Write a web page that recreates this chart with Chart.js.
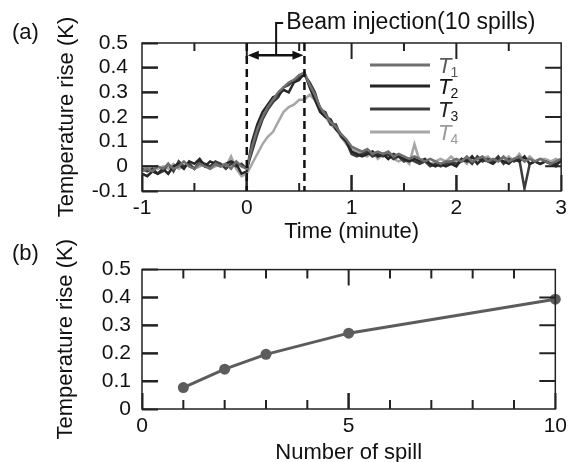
<!DOCTYPE html>
<html>
<head>
<meta charset="utf-8">
<script src="https://cdn.jsdelivr.net/npm/chart.js@4.4.1/dist/chart.umd.min.js"></script>
<style>
  html, body { margin: 0; padding: 0; background: #fff; overflow: hidden; }
  #wrapA { position: absolute; left: 0; top: 0; width: 588px; height: 245px; }
  #wrapB { position: absolute; left: 0; top: 230px; width: 588px; height: 240px; }
</style>
</head>
<body>
<div id="wrapA"><canvas id="chartA"></canvas></div>
<div id="wrapB"><canvas id="chartB"></canvas></div>
<script>
const FONT = "'Liberation Sans', Arial, sans-serif";
const INK = '#111';
const AXIS = '#222';

// (a) temperature rise of the four sensors vs time
const timeMin = [
  -1.00, -0.95, -0.90, -0.85, -0.80, -0.75, -0.70, -0.65, -0.60, -0.55,
  -0.50, -0.45, -0.40, -0.35, -0.30, -0.25, -0.20, -0.15, -0.10, -0.05,
  0.00, 0.05, 0.10, 0.15, 0.20, 0.25, 0.30, 0.35, 0.40, 0.45,
  0.50, 0.55, 0.60, 0.65, 0.70, 0.75, 0.80, 0.85, 0.90, 0.95,
  1.00, 1.05, 1.10, 1.15, 1.20, 1.25, 1.30, 1.35, 1.40, 1.45,
  1.50, 1.55, 1.60, 1.65, 1.70, 1.75, 1.80, 1.85, 1.90, 1.95,
  2.00, 2.05, 2.10, 2.15, 2.20, 2.25, 2.30, 2.35, 2.40, 2.45,
  2.50, 2.55, 2.60, 2.65, 2.70, 2.75, 2.80, 2.85, 2.90, 2.95,
  3.00
];
const riseT1 = [
  -0.02, -0.01, -0.02, 0.00, -0.01, 0.01, -0.01, 0.00, 0.02, 0.00,
  -0.01, 0.01, 0.00, -0.01, 0.01, 0.00, 0.01, -0.01, 0.02, 0.00,
  -0.01, 0.08, 0.15, 0.20, 0.24, 0.27, 0.30, 0.32, 0.34, 0.35,
  0.37, 0.38, 0.33, 0.29, 0.24, 0.21, 0.18, 0.16, 0.13, 0.11,
  0.08, 0.07, 0.06, 0.07, 0.05, 0.06, 0.05, 0.06, 0.04, 0.05,
  0.04, 0.03, 0.04, 0.03, 0.02, 0.03, 0.02, 0.01, 0.02, 0.02,
  0.03, 0.02, 0.04, 0.02, 0.03, 0.04, 0.02, 0.03, 0.02, 0.04,
  0.02, 0.03, 0.04, 0.02, 0.03, 0.02, 0.03, 0.02, 0.01, 0.02,
  0.03
];
const riseT2 = [
  -0.03, -0.04, -0.02, -0.03, -0.01, -0.03, 0.00, 0.01, -0.01, 0.02,
  0.01, 0.03, 0.00, 0.02, 0.01, 0.00, 0.01, 0.02, 0.01, -0.03,
  -0.02, 0.10, 0.17, 0.22, 0.25, 0.28, 0.29, 0.31, 0.30, 0.34,
  0.35, 0.38, 0.32, 0.27, 0.22, 0.20, 0.19, 0.15, 0.13, 0.10,
  0.06, 0.05, 0.04, 0.05, 0.06, 0.04, 0.05, 0.03, 0.05, 0.04,
  0.03, 0.02, 0.03, 0.02, 0.03, 0.01, 0.00, 0.01, 0.00, 0.01,
  0.00, 0.03, 0.02, 0.04, 0.01, 0.03, 0.02, 0.01, 0.03, 0.02,
  0.01, 0.03, 0.02, 0.04, 0.01, 0.02, 0.01, 0.02, 0.01, 0.01,
  0.02
];
const riseT3 = [
  -0.01, -0.02, -0.01, -0.03, -0.02, 0.01, -0.02, 0.02, 0.00, 0.01,
  -0.01, 0.02, 0.01, 0.00, 0.02, 0.01, -0.01, 0.01, 0.00, 0.01,
  -0.01, 0.06, 0.13, 0.19, 0.23, 0.26, 0.28, 0.32, 0.33, 0.35,
  0.36, 0.37, 0.34, 0.30, 0.23, 0.22, 0.17, 0.17, 0.12, 0.10,
  0.05, 0.04, 0.05, 0.06, 0.04, 0.05, 0.04, 0.05, 0.03, 0.04,
  0.02, 0.03, 0.02, 0.01, 0.02, 0.00, 0.01, 0.00, 0.01, 0.02,
  0.01, 0.02, 0.03, 0.01, 0.04, 0.02, 0.03, 0.02, 0.04, 0.01,
  0.03, 0.02, 0.03, -0.09, 0.01, 0.02, 0.01, 0.02, 0.01, 0.00,
  0.03
];
const riseT4 = [
  0.00, -0.01, 0.00, -0.01, 0.00, -0.01, 0.01, -0.01, 0.00, 0.01,
  -0.01, 0.00, 0.01, -0.01, 0.00, 0.01, 0.00, 0.04, -0.01, -0.04,
  -0.03, 0.01, 0.05, 0.09, 0.12, 0.14, 0.18, 0.22, 0.24, 0.25,
  0.27, 0.27, 0.29, 0.27, 0.23, 0.20, 0.17, 0.15, 0.12, 0.09,
  0.07, 0.06, 0.05, 0.04, 0.06, 0.03, 0.05, 0.04, 0.03, 0.02,
  0.03, 0.01, 0.09, 0.02, 0.03, 0.01, 0.02, 0.03, 0.02, 0.04,
  0.02, 0.03, 0.01, 0.04, 0.02, 0.03, 0.04, 0.02, 0.03, 0.02,
  0.04, 0.02, 0.05, 0.02, 0.04, 0.02, 0.03, 0.03, 0.02, 0.03,
  0.02
];
const sensorNames = ['1', '2', '3', '4'];
const sensorColors = ['#6f6f6f', '#262626', '#3c3c3c', '#a6a6a6'];
const sensorText = ['#5a5a5a', '#111111', '#222222', '#9a9a9a'];

// tick mark positions (long ticks carry labels, short ones do not)
const majorTimeTicks = [0, 1, 2];
const minorTimeTicks = [-0.5, 0.5, 1.5, 2.5];
const riseTicksA = [0, 0.1, 0.2, 0.3, 0.4];
const majorSpillTicks = [5];
const minorSpillTicks = [1, 2, 3, 4, 6, 7, 8, 9];
const riseTicksB = [0.1, 0.2, 0.3, 0.4];

// injection window (minutes) and where the arrow sits
const injectStart = 0;
const injectEnd = 0.55;
const arrowLevel = 0.45;
const bracketAt = 0.28;
const annotation = 'Beam injection(10 spills)';

// (b) temperature rise vs number of spills
const spills = [1, 2, 3, 5, 10];
const riseBySpill = [0.077, 0.143, 0.196, 0.272, 0.394];

// frame on all four sides plus inward tick marks on top and right
function drawFrame(chart, major, minor, yTicks, minorLen) {
  const ctx = chart.ctx;
  const a = chart.chartArea;
  const xs = chart.scales.x;
  const ys = chart.scales.y;
  ctx.save();
  ctx.setLineDash([]);
  ctx.globalAlpha = 1;
  ctx.strokeStyle = AXIS;
  ctx.lineWidth = 1.5;
  ctx.strokeRect(a.left, a.top, a.right - a.left, a.bottom - a.top);
  ctx.lineWidth = 2;
  ctx.beginPath();
  major.forEach(v => {
    const px = xs.getPixelForValue(v);
    ctx.moveTo(px, a.bottom); ctx.lineTo(px, a.bottom - 16);
    ctx.moveTo(px, a.top); ctx.lineTo(px, a.top + 16);
  });
  minor.forEach(v => {
    const px = xs.getPixelForValue(v);
    ctx.moveTo(px, a.bottom); ctx.lineTo(px, a.bottom - minorLen);
    ctx.moveTo(px, a.top); ctx.lineTo(px, a.top + minorLen);
  });
  yTicks.forEach(v => {
    const py = ys.getPixelForValue(v);
    ctx.moveTo(a.left, py); ctx.lineTo(a.left + 16, py);
    ctx.moveTo(a.right, py); ctx.lineTo(a.right - 16, py);
  });
  ctx.stroke();
  ctx.restore();
}

function panelLabel(ctx, text, x, y) {
  ctx.save();
  ctx.fillStyle = INK;
  ctx.font = '22px ' + FONT;
  ctx.textBaseline = 'middle';
  ctx.fillText(text, x, y);
  ctx.restore();
}

const yLabel = v => Math.abs(v) < 1e-9 ? '0' : v.toFixed(1);

// Chart.js draws the bottom/left ticks itself: a negative length points them inward
const inwardGrid = {
  display: true,
  drawOnChartArea: false,
  drawTicks: true,
  tickLength: -16,
  tickWidth: 2,
  tickColor: ctx => (ctx.tick && ctx.tick.label === '') ? 'rgba(0,0,0,0)' : AXIS
};

const decorA = {
  id: 'decorA',
  afterDraw(chart) {
    drawFrame(chart, majorTimeTicks, minorTimeTicks, riseTicksA, 8);
    const { ctx, chartArea: a, scales: { x, y } } = chart;
    ctx.save();
    // dashed markers for the injection window
    ctx.strokeStyle = '#111';
    ctx.lineWidth = 2.5;
    ctx.setLineDash([8, 5]);
    [injectStart, injectEnd].forEach(v => {
      const px = x.getPixelForValue(v);
      ctx.beginPath();
      ctx.moveTo(px, a.top);
      ctx.lineTo(px, a.bottom);
      ctx.stroke();
    });
    ctx.setLineDash([]);

    // double-headed arrow across the window
    const x0 = x.getPixelForValue(injectStart);
    const x1 = x.getPixelForValue(injectEnd);
    const ay = y.getPixelForValue(arrowLevel);
    ctx.lineWidth = 2.5;
    ctx.beginPath();
    ctx.moveTo(x0 + 6, ay); ctx.lineTo(x1 - 6, ay);
    ctx.stroke();
    ctx.fillStyle = '#111';
    ctx.beginPath();
    ctx.moveTo(x0 + 1, ay); ctx.lineTo(x0 + 12, ay - 4.5); ctx.lineTo(x0 + 12, ay + 4.5);
    ctx.closePath(); ctx.fill();
    ctx.beginPath();
    ctx.moveTo(x1 - 1, ay); ctx.lineTo(x1 - 12, ay - 4.5); ctx.lineTo(x1 - 12, ay + 4.5);
    ctx.closePath(); ctx.fill();

    // bracket up to the label
    const bx = x.getPixelForValue(bracketAt);
    ctx.lineWidth = 2;
    ctx.beginPath();
    ctx.moveTo(bx, ay);
    ctx.lineTo(bx, 23);
    ctx.lineTo(bx + 7, 23);
    ctx.stroke();
    ctx.font = '23px ' + FONT;
    ctx.textBaseline = 'middle';
    ctx.fillText(annotation, bx + 10, 23);

    // legend with italic T and subscript index
    const rows = [65, 86, 109, 132];
    chart.data.datasets.forEach((ds, i) => {
      const ly = rows[i];
      ctx.strokeStyle = ds.borderColor;
      ctx.lineWidth = 3;
      ctx.beginPath();
      ctx.moveTo(370, ly); ctx.lineTo(430, ly);
      ctx.stroke();
      ctx.fillStyle = sensorText[i];
      ctx.textBaseline = 'alphabetic';
      ctx.font = 'italic 22px ' + FONT;
      ctx.fillText('T', 438, ly + 8);
      const w = ctx.measureText('T').width;
      ctx.font = '14px ' + FONT;
      ctx.fillText(sensorNames[i], 438 + w - 1, ly + 12);
    });

    panelLabel(ctx, '(a)', 12, 33);
    ctx.restore();
  }
};

const decorB = {
  id: 'decorB',
  afterDraw(chart) {
    drawFrame(chart, majorSpillTicks, minorSpillTicks, riseTicksB, 9);
    panelLabel(chart.ctx, '(b)', 12, 24);
  }
};

const tickFont = { family: FONT, size: 21 };
const titleFont = { family: FONT, size: 22 };

function lineSeries(values, i) {
  return {
    label: 'T' + sensorNames[i],
    data: values,
    borderColor: sensorColors[i],
    borderWidth: 2.5,
    pointRadius: 0,
    tension: 0,
    fill: false
  };
}

new Chart(document.getElementById('chartA'), {
  type: 'line',
  data: {
    labels: timeMin,
    datasets: [riseT1, riseT2, riseT3, riseT4].map(lineSeries)
  },
  options: {
    responsive: true,
    maintainAspectRatio: false,
    animation: false,
    layout: { padding: { top: 43, right: 15, left: 0, bottom: 0 } },
    plugins: { legend: { display: false }, tooltip: { enabled: false } },
    scales: {
      x: {
        type: 'linear',
        min: -1, max: 3,
        afterFit: s => { s.height = 54; },
        grid: inwardGrid,
        border: { display: false },
        ticks: {
          stepSize: 0.5, padding: 21, color: INK, font: tickFont, maxRotation: 0, autoSkip: false,
          callback: v => Number.isInteger(v) ? String(v) : ''
        },
        title: { display: true, text: 'Time (minute)', color: INK, font: titleFont, padding: { top: 0, bottom: 0 } }
      },
      y: {
        min: -0.1, max: 0.5,
        afterFit: s => { s.width = 142; },
        grid: inwardGrid,
        border: { display: false },
        ticks: { stepSize: 0.1, padding: 30, color: INK, font: tickFont, autoSkip: false, callback: yLabel },
        title: { display: true, text: 'Temperature rise (K)', color: INK, font: titleFont, padding: { top: 54, bottom: 0 } }
      }
    }
  },
  plugins: [decorA]
});

new Chart(document.getElementById('chartB'), {
  type: 'line',
  data: {
    labels: spills,
    datasets: [{
      label: 'Temperature rise',
      data: riseBySpill,
      borderColor: '#5c5c5c',
      backgroundColor: '#5c5c5c',
      borderWidth: 3,
      pointRadius: 5.5,
      pointBorderWidth: 0,
      tension: 0,
      fill: false,
      clip: false
    }]
  },
  options: {
    responsive: true,
    maintainAspectRatio: false,
    animation: false,
    layout: { padding: { top: 34, right: 15, left: 0, bottom: 0 } },
    plugins: { legend: { display: false }, tooltip: { enabled: false } },
    scales: {
      x: {
        type: 'linear',
        min: 0, max: 10,
        afterFit: s => { s.height = 61; },
        grid: inwardGrid,
        border: { display: false },
        ticks: {
          stepSize: 1, padding: 21, color: INK, font: tickFont, maxRotation: 0, autoSkip: false,
          callback: v => v % 5 === 0 ? String(v) : ''
        },
        title: { display: true, text: 'Number of spill', color: INK, font: titleFont, padding: { top: 0, bottom: 4 } }
      },
      y: {
        min: 0, max: 0.5,
        afterFit: s => { s.width = 142; },
        grid: inwardGrid,
        border: { display: false },
        ticks: { stepSize: 0.1, padding: 27, color: INK, font: tickFont, autoSkip: false, callback: yLabel },
        title: { display: true, text: 'Temperature rise (K)', color: INK, font: titleFont, padding: { top: 53, bottom: 0 } }
      }
    }
  },
  plugins: [decorB]
});
</script>
</body>
</html>
